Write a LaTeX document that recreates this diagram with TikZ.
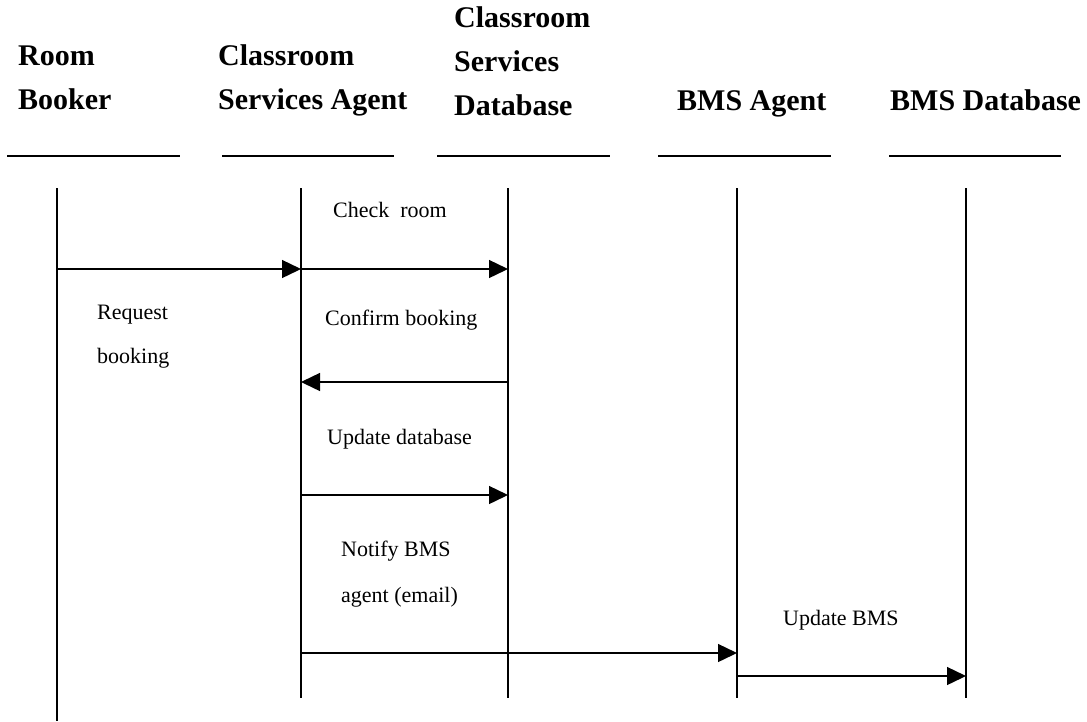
\documentclass[tikz,border=0pt]{standalone}
\usepackage{fontspec}
\setmainfont{Liberation Serif}
\usetikzlibrary{arrows.meta}
\begin{document}
\begin{tikzpicture}[x=1pt,y=-1pt,
  hdr/.style={anchor=base west,inner sep=0pt,font=\bfseries\fontsize{30}{36}\selectfont},
  lbl/.style={anchor=base west,inner sep=0pt,font=\fontsize{22}{26}\selectfont},
  uline/.style={line width=1.6pt},
  life/.style={line width=1.4pt},
  msg/.style={line width=1.4pt,-{Triangle[length=19pt,width=18pt]}}]
\useasboundingbox (0,0) rectangle (1087,721);
% headers
\node[hdr] (rb1) at (18,65) {Room};
\node[hdr] (rb2) at (18,109) {Booker};
\node[hdr] (csa1) at (218,65) {Classroom};
\node[hdr] (csa2) at (218,109) {Services Agent};
\node[hdr] (csd1) at (454,27) {Classroom};
\node[hdr] (csd2) at (454,71) {Services};
\node[hdr] (csd3) at (454,115) {Database};
\node[hdr] (bmsa) at (677,110) {BMS Agent};
\node[hdr] (bmsd) at (890,110) {BMS Database};
% underlines
\coordinate (u1a) at (7,156); \coordinate (u1b) at (180,156);
\coordinate (u2a) at (222,156); \coordinate (u2b) at (394,156);
\coordinate (u3a) at (437,156); \coordinate (u3b) at (610,156);
\coordinate (u4a) at (658,156); \coordinate (u4b) at (831,156);
\coordinate (u5a) at (889,156); \coordinate (u5b) at (1061,156);
\draw[uline] (u1a) -- (u1b);
\draw[uline] (u2a) -- (u2b);
\draw[uline] (u3a) -- (u3b);
\draw[uline] (u4a) -- (u4b);
\draw[uline] (u5a) -- (u5b);
% lifelines
\coordinate (rbT) at (57,188);  \coordinate (rbB) at (57,721);
\coordinate (csaT) at (301,188); \coordinate (csaB) at (301,698);
\coordinate (csdT) at (508,188); \coordinate (csdB) at (508,698);
\coordinate (bmaT) at (737,188); \coordinate (bmaB) at (737,698);
\coordinate (bmdT) at (966,188); \coordinate (bmdB) at (966,698);
\draw[life] (rbT) -- (rbB);
\draw[life] (csaT) -- (csaB);
\draw[life] (csdT) -- (csdB);
\draw[life] (bmaT) -- (bmaB);
\draw[life] (bmdT) -- (bmdB);
% messages
\coordinate (m1a) at (57,269);  \coordinate (m1b) at (301,269);
\coordinate (m2a) at (301,269); \coordinate (m2b) at (508,269);
\coordinate (m3a) at (508,382); \coordinate (m3b) at (301,382);
\coordinate (m4a) at (301,495); \coordinate (m4b) at (508,495);
\coordinate (m5a) at (301,653); \coordinate (m5b) at (737,653);
\coordinate (m6a) at (737,676); \coordinate (m6b) at (966,676);
\draw[msg] (m1a) -- (m1b);
\draw[msg] (m2a) -- (m2b);
\draw[msg] (m3a) -- (m3b);
\draw[msg] (m4a) -- (m4b);
\draw[msg] (m5a) -- (m5b);
\draw[msg] (m6a) -- (m6b);
% labels
\node[lbl] (l1) at (333,217) {Check\ \ room};
\node[lbl] (l2a) at (97,319) {Request};
\node[lbl] (l2b) at (97,363) {booking};
\node[lbl] (l3) at (325,325) {Confirm booking};
\node[lbl] (l4) at (327,444) {Update database};
\node[lbl] (l5a) at (341,556) {Notify BMS};
\node[lbl] (l5b) at (341,602) {agent (email)};
\node[lbl] (l6) at (783,625) {Update BMS};
\end{tikzpicture}
\end{document}
